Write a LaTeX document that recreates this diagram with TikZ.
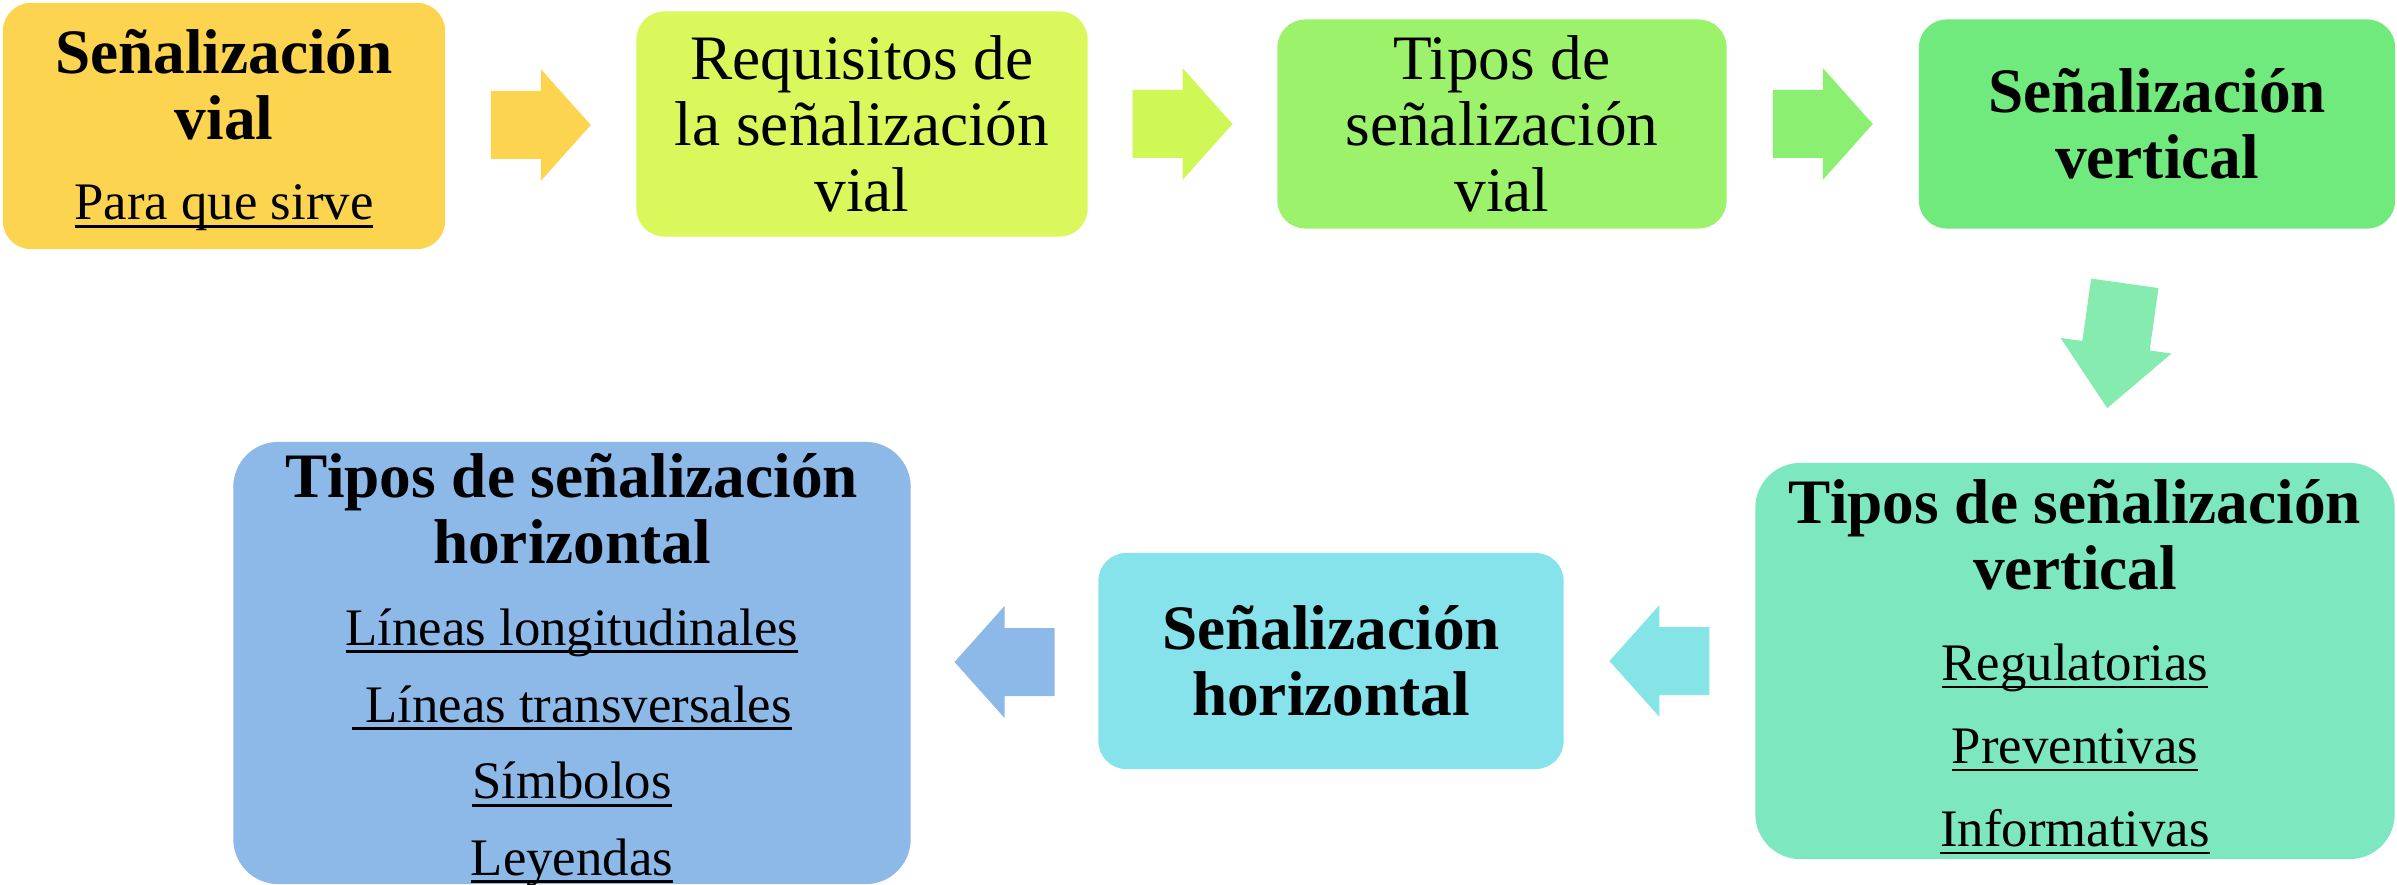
\documentclass[tikz,border=0pt]{standalone}
\usepackage{fontspec}
\setmainfont{Liberation Serif}

\definecolor{naranja}{HTML}{FDD44F}
\definecolor{limon}{HTML}{DAF75B}
\definecolor{pasto}{HTML}{9DF26B}
\definecolor{verde}{HTML}{70EA7D}
\definecolor{menta}{HTML}{7DE8C0}
\definecolor{celeste}{HTML}{86E3EC}
\definecolor{azul}{HTML}{8DB9E9}

% texto subrayado a la altura de Word
\newcommand{\opcion}[1]{\leavevmode{\mdseries\fontsize{15}{18.8}\selectfont
    \setbox0=\hbox{#1}\rlap{\rule[-0.15em]{\wd0}{0.055em}}\box0}}

\begin{document}
\begin{tikzpicture}
[
    x=0.01cm, y=-0.01cm,
    caja/.style={rounded corners=2.8mm, inner sep=0pt, align=flush center,
        font=\fontsize{18}{18.8}\selectfont},
    flecha/.pic={\path[pic actions] (-50,-34) -- (0,-34) -- (0,-56) -- (50,0)
        -- (0,56) -- (0,34) -- (-50,34) -- cycle;},
]
\useasboundingbox (0,0) rectangle (2397,885);

% fila de arriba
\node [caja, fill=naranja, text width=4.2cm, minimum width=4.42cm, minimum height=2.46cm] (vial) at (224,126)
{\bfseries Señalización\\ vial\\[4pt] \opcion{Para que sirve}\par\kern-2.3pt};
\node [caja, fill=limon, text width=4.3cm, minimum width=4.51cm, minimum height=2.25cm] (requisitos) at (862,124)
{Requisitos de\\ la señalización\\ vial};
\node [caja, fill=pasto, text width=4.3cm, minimum width=4.49cm, minimum height=2.09cm] (tipos) at (1502,124)
{Tipos de\\ señalización\\ vial};
\node [caja, fill=verde, text width=4.5cm, minimum width=4.76cm, minimum height=2.09cm] (vertical) at (2157,124)
{\bfseries Señalización\\ vertical};

% fila de abajo
\node [caja, fill=menta, rounded corners=4.5mm, text width=6.2cm, minimum width=6.39cm, minimum height=3.96cm] (tiposv) at (2075,661)
{\bfseries Tipos de señalización\\ vertical\\[7pt]
 \opcion{Regulatorias}\\[4.8pt] \opcion{Preventivas}\\[4.8pt] \opcion{Informativas}\par\kern-3.4pt};
\node [caja, fill=celeste, text width=4.4cm, minimum width=4.65cm, minimum height=2.16cm] (horizontal) at (1331,661)
{\bfseries Señalización\\ horizontal};
\node [caja, fill=azul, rounded corners=4.5mm, text width=6.5cm, minimum width=6.77cm, minimum height=4.42cm] (tiposh) at (572,663)
{\bfseries Tipos de señalización\\ horizontal\\[4.5pt]
 \opcion{Líneas longitudinales}\\[3pt] \opcion{\ Líneas transversales}\\[3pt]
 \opcion{Símbolos}\\[3pt] \opcion{Leyendas}\par\kern-4pt};

% flechas
\path (vial.east) -- (requisitos.west) coordinate[midway] (f1);
\path (requisitos.east) -- (tipos.west) coordinate[midway] (f2);
\path (tipos.east) -- (vertical.west) coordinate[midway] (f3);
\path (vertical.south) -- (tiposv.north) coordinate[midway] (f4);
\path (tiposv.west) -- (horizontal.east) coordinate[midway] (f5);
\path (horizontal.west) -- (tiposh.east) coordinate[midway] (f6);
\pic [fill=naranja] at (f1) {flecha};
\pic [fill=limon!95!green] at (f2) {flecha};
\pic [fill=pasto!60!verde] at (f3) {flecha};
\pic [fill=menta!60!verde!90!white, rotate=-98, xscale=1.26] at (f4) {flecha};
\pic [fill=celeste!85!menta, rotate=180] at (f5) {flecha};
\pic [fill=azul, rotate=180] at (f6) {flecha};
\end{tikzpicture}
\end{document}
